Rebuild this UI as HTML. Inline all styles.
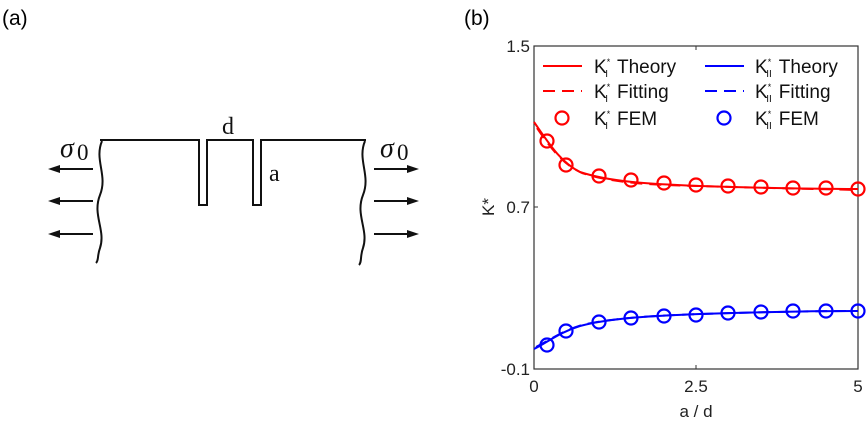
<!DOCTYPE html>
<html><head><style>
html,body{margin:0;padding:0;background:#fff;}
svg{display:block;}
.s{font-family:"Liberation Sans",sans-serif;}
.r{font-family:"Liberation Serif",serif;}
</style></head><body>
<svg width="866" height="427" viewBox="0 0 866 427" xmlns="http://www.w3.org/2000/svg">
<text class="s" x="2" y="25" font-size="21" fill="#000">(a)</text>
<text class="s" x="464" y="25" font-size="21" fill="#000">(b)</text>
<!-- panel a -->
<g stroke="#111" stroke-width="2" fill="none">
<path d="M100 140 H199 V205 H207 V140 H253 V205 H261 V140 H366"/>
<path d="M102 141 C94 160,108 175,100 195 C92 215,106 230,100 248 C97 256,99 260,96 263"/>
<path d="M365 141 C357 160,371 175,363 195 C355 215,369 230,363 248 C360 256,362 262,359 265"/>
<path d="M93 169 H56 M93 201 H56 M93 234 H56"/>
<path d="M374 169 H410 M374 201 H410 M374 234 H410"/>
</g>
<g fill="#111">
<path d="M48 169 L60 165 L60 173Z"/><path d="M48 201 L60 197 L60 205Z"/><path d="M48 234 L60 230 L60 238Z"/>
<path d="M419 169 L407 165 L407 173Z"/><path d="M419 201 L407 197 L407 205Z"/><path d="M419 234 L407 230 L407 238Z"/>
</g>
<g fill="#111">
<text class="r" x="60" y="157" font-size="28" font-style="italic">σ</text><text class="r" x="77" y="160" font-size="23">0</text>
<text class="r" x="380" y="157" font-size="28" font-style="italic">σ</text><text class="r" x="397" y="160" font-size="23">0</text>
<text class="r" x="222" y="134" font-size="24">d</text>
<text class="r" x="269" y="181" font-size="24">a</text>
</g>
<!-- panel b -->
<rect x="534" y="46" width="324" height="323" fill="none" stroke="#333" stroke-width="1.2"/>
<path d="M534 207 h4 M696 369 v-4 M696 46 v4" stroke="#333" stroke-width="1"/>
<g class="s" font-size="17" fill="#222">
<text x="530" y="52" text-anchor="end">1.5</text>
<text x="530" y="213" text-anchor="end">0.7</text>
<text x="530" y="375" text-anchor="end">-0.1</text>
<text x="534" y="392" text-anchor="middle">0</text>
<text x="696" y="392" text-anchor="middle">2.5</text>
<text x="858" y="392" text-anchor="middle">5</text>
<text x="696" y="417" text-anchor="middle">a / d</text>
<text x="0" y="0" transform="translate(494,207) rotate(-90)" text-anchor="middle">K*</text>
</g>
<!-- legend -->
<g class="s" font-size="19" fill="#111">
<line x1="543" y1="66" x2="582" y2="66" stroke="#f00" stroke-width="2"/>
<line x1="543" y1="91" x2="582" y2="91" stroke="#f00" stroke-width="2" stroke-dasharray="12,7"/>
<circle cx="562" cy="118" r="6.5" fill="none" stroke="#f00" stroke-width="2.2"/>
<line x1="705" y1="66" x2="744" y2="66" stroke="#00f" stroke-width="2"/>
<line x1="705" y1="91" x2="744" y2="91" stroke="#00f" stroke-width="2" stroke-dasharray="12,7"/>
<circle cx="724" cy="118" r="6.5" fill="none" stroke="#00f" stroke-width="2.2"/>
<text x="594" y="73">K<tspan font-size="9" dy="-8">*</tspan><tspan font-size="10" dx="-5" dy="12">I</tspan><tspan dx="9" dy="-4">Theory</tspan></text>
<text x="594" y="98">K<tspan font-size="9" dy="-8">*</tspan><tspan font-size="10" dx="-5" dy="12">I</tspan><tspan dx="9" dy="-4">Fitting</tspan></text>
<text x="594" y="125">K<tspan font-size="9" dy="-8">*</tspan><tspan font-size="10" dx="-5" dy="12">I</tspan><tspan dx="9" dy="-4">FEM</tspan></text>
<text x="755" y="73">K<tspan font-size="9" dy="-8">*</tspan><tspan font-size="10" dx="-5" dy="12">II</tspan><tspan dx="7" dy="-4">Theory</tspan></text>
<text x="755" y="98">K<tspan font-size="9" dy="-8">*</tspan><tspan font-size="10" dx="-5" dy="12">II</tspan><tspan dx="7" dy="-4">Fitting</tspan></text>
<text x="755" y="125">K<tspan font-size="9" dy="-8">*</tspan><tspan font-size="10" dx="-5" dy="12">II</tspan><tspan dx="7" dy="-4">FEM</tspan></text>
</g>
<!-- red curves -->
<path d="M534 122 C548 142,560 162,580 172 C610 182,650 184,700 186 C760 188,820 189,858 189" fill="none" stroke="#f00" stroke-width="2"/>
<path d="M537 128 C550 147,562 164,582 173 C612 183,650 185,700 186 C760 188,820 189,858 190" fill="none" stroke="#f00" stroke-width="2" stroke-dasharray="12,7"/>
<g fill="none" stroke="#f00" stroke-width="2.2">
<circle cx="547" cy="141" r="6.5"/><circle cx="566" cy="165" r="6.5"/><circle cx="599" cy="176" r="6.5"/>
<circle cx="631" cy="180" r="6.5"/><circle cx="664" cy="183" r="6.5"/><circle cx="696" cy="185" r="6.5"/>
<circle cx="728" cy="186" r="6.5"/><circle cx="761" cy="187" r="6.5"/><circle cx="793" cy="188" r="6.5"/>
<circle cx="826" cy="188" r="6.5"/><circle cx="858" cy="189" r="6.5"/>
</g>
<!-- blue curves -->
<path d="M534 349 C548 342,560 332,580 326 C610 318,650 316,700 314 C760 312,820 311,858 311" fill="none" stroke="#00f" stroke-width="2"/>
<path d="M536 347 C550 340,562 331,582 325 C612 318,650 316,700 314 C760 312,820 311,858 311" fill="none" stroke="#00f" stroke-width="2" stroke-dasharray="12,7"/>
<g fill="none" stroke="#00f" stroke-width="2.2">
<circle cx="547" cy="345" r="6.5"/><circle cx="566" cy="331" r="6.5"/><circle cx="599" cy="322" r="6.5"/>
<circle cx="631" cy="318" r="6.5"/><circle cx="664" cy="316" r="6.5"/><circle cx="696" cy="315" r="6.5"/>
<circle cx="728" cy="313" r="6.5"/><circle cx="761" cy="312" r="6.5"/><circle cx="793" cy="311" r="6.5"/>
<circle cx="826" cy="311" r="6.5"/><circle cx="858" cy="311" r="6.5"/>
</g>
</svg>
</body></html>
